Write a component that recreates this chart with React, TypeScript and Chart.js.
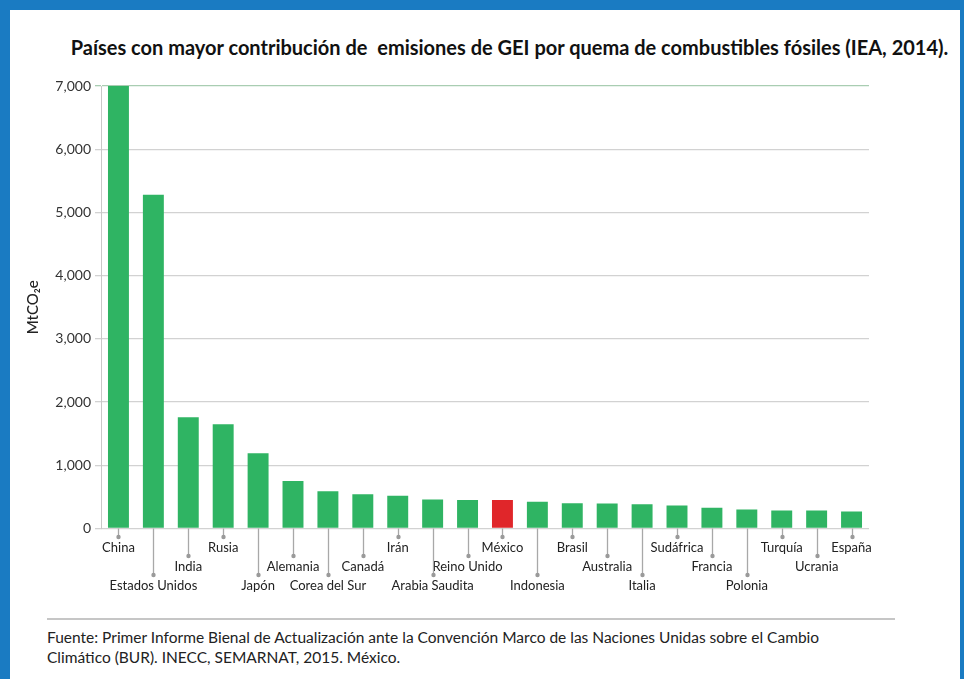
import React, { useEffect, useRef } from "react";
import { Chart, registerables } from "chart.js";

Chart.register(...registerables);

const countries = [
  "China", "Estados Unidos", "India", "Rusia", "Japón", "Alemania", "Corea del Sur",
  "Canadá", "Irán", "Arabia Saudita", "Reino Unido", "México", "Indonesia", "Brasil",
  "Australia", "Italia", "Sudáfrica", "Francia", "Polonia", "Turquía", "Ucrania", "España",
];
const emissions = [
  7000, 5280, 1760, 1650, 1190, 750, 590, 540, 520, 460, 450, 450, 425, 400,
  395, 385, 365, 330, 300, 285, 285, 270,
];
const labelRows = [0, 2, 1, 0, 2, 1, 2, 1, 0, 2, 1, 0, 2, 0, 1, 2, 0, 1, 2, 0, 1, 0];
const highlighted = "México";
const yMin = 0;
const yMax = 7000;
const yStep = 1000;
const titleText = "Países con mayor contribución de  emisiones de GEI por quema de combustibles fósiles (IEA, 2014).";
const yTitle = "MtCO₂e";
const sourceLines = [
  "Fuente: Primer Informe Bienal de Actualización ante la Convención Marco de las Naciones Unidas sobre el Cambio",
  "Climático (BUR). INECC, SEMARNAT, 2015. México.",
];

const GREEN = "#2fb463";
const RED = "#e0262a";
const BLUE = "#1a7bc2";
const FONT = "Lato, 'Open Sans', sans-serif";

const leaderPlugin = {
  id: "leaders",
  afterDatasetsDraw(chart: any) {
    const { ctx, chartArea, scales } = chart;
    const xs = scales.x;
    const base = chartArea.bottom;
    const ends = [8.5, 27.5, 46.5];
    ctx.save();
    countries.forEach((_, i) => {
      const x = Math.round(xs.getPixelForValue(i)) + 0.5;
      const yEnd = base + ends[labelRows[i]];
      ctx.strokeStyle = "#a8a8a8";
      ctx.lineWidth = 1.3;
      ctx.beginPath();
      ctx.moveTo(x, base);
      ctx.lineTo(x, yEnd);
      ctx.stroke();
      ctx.fillStyle = "#9a9a9a";
      ctx.beginPath();
      ctx.arc(x, yEnd, 2.2, 0, Math.PI * 2);
      ctx.fill();
    });
    ctx.restore();
  },
};

function App() {
  const ref = useRef<HTMLCanvasElement | null>(null);

  useEffect(() => {
    if (!ref.current) return;
    const chart = new Chart(ref.current, {
      type: "bar",
      data: {
        labels: countries,
        datasets: [
          {
            data: emissions,
            backgroundColor: countries.map((c) => (c === highlighted ? RED : GREEN)),
            borderWidth: 0,
            barPercentage: 0.6,
            categoryPercentage: 1,
          },
        ],
      },
      options: {
        animation: false,
        responsive: false,
        maintainAspectRatio: false,
        layout: { padding: { top: 76, right: 91, left: 0, bottom: 0 } },
        plugins: {
          legend: { display: false },
          tooltip: { enabled: false },
          title: { display: false },
        },
        scales: {
          x: {
            grid: { display: false, drawTicks: false },
            border: { display: false },
            ticks: {
              autoSkip: false,
              maxRotation: 0,
              minRotation: 0,
              padding: 10,
              color: "#222",
              font: { family: FONT, size: 13, lineHeight: 1.46 },
              callback: (_v: any, i: number) => {
                const rows: string[] = [];
                for (let k = 0; k < labelRows[i]; k++) rows.push("");
                rows.push(countries[i]);
                return rows;
              },
            },
            afterFit: (s: any) => {
              s.height = 81.5;
            },
          },
          y: {
            min: yMin,
            max: yMax,
            ticks: {
              stepSize: yStep,
              padding: 4,
              color: "#333",
              font: { family: FONT, size: 14 },
              callback: (v: any) => Number(v).toLocaleString("en-US"),
            },
            grid: {
              color: (c: any) => (c.tick && c.tick.value === yMax ? "#a9cdb2" : "#d2d2d2"),
              lineWidth: 1.3,
              tickLength: 6,
            },
            border: { display: true, color: "#c8c8c8" },
            title: {
              display: true,
              text: yTitle,
              color: "#222",
              font: { family: FONT, size: 15, weight: "500" },
              padding: { top: 14, bottom: 0 },
            },
            afterFit: (s: any) => {
              s.width = 91;
            },
          },
        },
      },
      plugins: [leaderPlugin],
    });
    return () => chart.destroy();
  }, []);

  return (
    <div
      style={{
        position: "fixed",
        left: 0,
        top: 0,
        width: 964,
        height: 679,
        background: BLUE,
        overflow: "hidden",
      }}
    >
      <div
        style={{
          position: "absolute",
          left: 10,
          top: 10,
          width: 950,
          height: 669,
          background: "#fff",
        }}
      >
        <div
          style={{
            position: "absolute",
            left: 0,
            top: 25,
            width: 999,
            textAlign: "center",
            fontFamily: FONT,
            fontWeight: 700,
            fontSize: 20,
            lineHeight: "24px",
            color: "#111",
            whiteSpace: "pre",
          }}
        >
          {titleText}
        </div>
        <canvas ref={ref} width={950} height={600} style={{ position: "absolute", left: 0, top: 0 }} />
        <div
          style={{
            position: "absolute",
            left: 37,
            top: 608,
            width: 848,
            height: 2,
            background: "#c6c6c6",
          }}
        />
        <div
          style={{
            position: "absolute",
            left: 37,
            top: 617,
            fontFamily: FONT,
            fontSize: 15.5,
            lineHeight: "20px",
            color: "#222",
            whiteSpace: "nowrap",
          }}
        >
          {sourceLines.map((l, i) => (
            <div key={i}>{l}</div>
          ))}
        </div>
      </div>
    </div>
  );
}

export default App;
